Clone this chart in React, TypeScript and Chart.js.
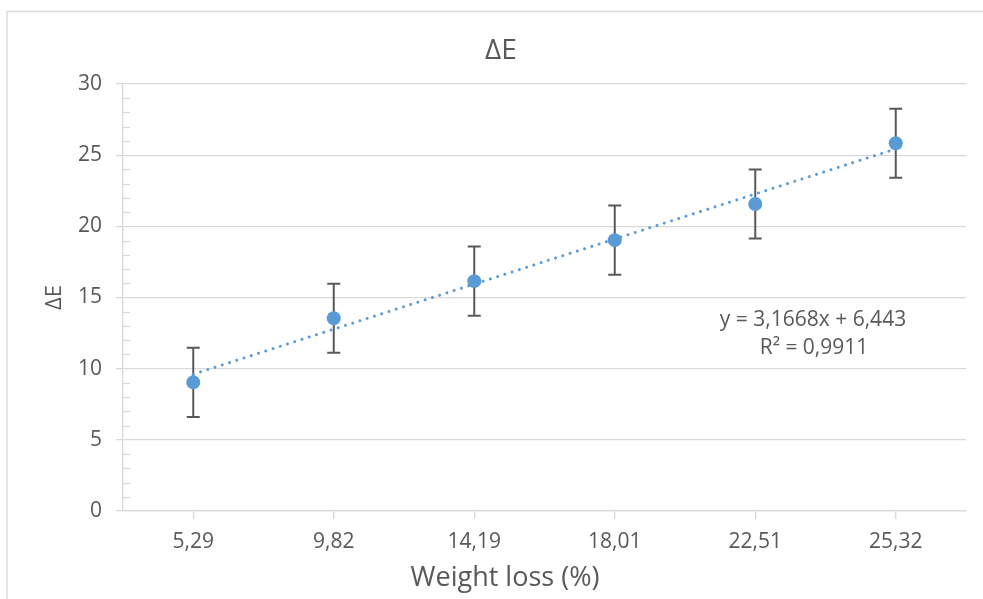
import React, { useEffect, useRef } from "react";
import { Chart, registerables } from "chart.js";

Chart.register(...registerables);

const categories = ["5,29", "9,82", "14,19", "18,01", "22,51", "25,32"];
const deltaE = [9.04, 13.54, 16.15, 19.03, 21.57, 25.84];
const errorAmounts = [2.43, 2.42, 2.43, 2.43, 2.43, 2.42];
const trendValues = [9.61, null, null, null, null, 25.44];
const yTicks = { min: 0, max: 30, step: 5, minorStep: 1 };
const titleText = "ΔE";
const yTitleText = "ΔE";
const xTitleText = "Weight loss (%)";
const equationLines = ["y = 3,1668x + 6,443", "R² = 0,9911"];

const FONT = "'Open Sans', 'Noto Sans', sans-serif";
const TEXT = "#595959";
const GRID = "#D9D9D9";
const BLUE = "#5B9BD5";

const decorPlugin = {
  id: "decor",
  beforeDraw(chart: any) {
    const ctx = chart.ctx;
    ctx.save();
    ctx.fillStyle = "#ffffff";
    ctx.fillRect(0, 0, chart.width, chart.height);
    ctx.strokeStyle = GRID;
    ctx.lineWidth = 1.3;
    ctx.beginPath();
    ctx.moveTo(7, chart.height);
    ctx.lineTo(7, 11.5);
    ctx.lineTo(chart.width, 11.5);
    ctx.stroke();
    ctx.restore();
  },
  beforeDatasetsDraw(chart: any) {
    const ctx = chart.ctx;
    const x = chart.scales.x;
    const y = chart.scales.y;
    ctx.save();
    ctx.strokeStyle = GRID;
    ctx.lineWidth = 1.3;
    for (let v = yTicks.min; v <= yTicks.max; v += yTicks.minorStep) {
      if (v % yTicks.step === 0) continue;
      const py = Math.round(y.getPixelForValue(v)) + 0.5;
      ctx.beginPath();
      ctx.moveTo(chart.chartArea.left, py);
      ctx.lineTo(chart.chartArea.left + 7, py);
      ctx.stroke();
    }
    ctx.strokeStyle = "#595959";
    ctx.lineWidth = 2;
    deltaE.forEach((val, i) => {
      const px = x.getPixelForValue(i);
      const top = y.getPixelForValue(val + errorAmounts[i]);
      const bot = y.getPixelForValue(val - errorAmounts[i]);
      ctx.beginPath();
      ctx.moveTo(px, top);
      ctx.lineTo(px, bot);
      ctx.moveTo(px - 6.5, top);
      ctx.lineTo(px + 6.5, top);
      ctx.moveTo(px - 6.5, bot);
      ctx.lineTo(px + 6.5, bot);
      ctx.stroke();
    });
    ctx.restore();
  },
  afterDraw(chart: any) {
    const ctx = chart.ctx;
    ctx.save();
    ctx.fillStyle = TEXT;
    ctx.textAlign = "center";
    ctx.textBaseline = "middle";
    ctx.font = `28px ${FONT}`;
    ctx.fillText(titleText, 501, 51);
    ctx.font = `27px ${FONT}`;
    ctx.fillText(xTitleText, 505, 578);
    ctx.font = `21px ${FONT}`;
    ctx.fillText(equationLines[0], 813, 320);
    ctx.fillText(equationLines[1], 814, 348);
    ctx.save();
    ctx.translate(55, 297.5);
    ctx.rotate(-Math.PI / 2);
    ctx.font = `22px ${FONT}`;
    ctx.fillText(yTitleText, 0, 0);
    ctx.restore();
    ctx.restore();
  },
};

export default function App() {
  const ref = useRef<HTMLCanvasElement>(null);
  useEffect(() => {
    if (!ref.current) return;
    const chart = new Chart(ref.current, {
      type: "line",
      data: {
        labels: categories,
        datasets: [
          {
            label: "ΔE",
            data: deltaE,
            showLine: false,
            pointRadius: 7,
            pointHoverRadius: 7,
            pointBackgroundColor: BLUE,
            pointBorderWidth: 0,
            borderColor: BLUE,
            backgroundColor: BLUE,
            order: 0,
          },
          {
            label: "Trend",
            data: trendValues,
            spanGaps: true,
            pointRadius: 0,
            borderColor: BLUE,
            borderWidth: 3,
            borderDash: [0.01, 7.6],
            borderCapStyle: "round",
            fill: false,
            order: 1,
          },
        ],
      },
      options: {
        responsive: false,
        animation: false,
        events: [],
        layout: { padding: { top: 84, right: 17, left: 0, bottom: 0 } },
        plugins: {
          legend: { display: false },
          title: { display: false },
          tooltip: { enabled: false },
        },
        scales: {
          x: {
            type: "category",
            offset: true,
            grid: {
              display: true,
              offset: false,
              drawOnChartArea: false,
              drawTicks: true,
              tickLength: 8,
              color: GRID,
              lineWidth: 1.3,
            },
            border: { display: true, color: GRID, width: 1.3 },
            ticks: {
              color: TEXT,
              font: { family: FONT, size: 21 },
              padding: 10,
              maxRotation: 0,
            },
            afterFit(scale: any) {
              scale.height = 599 - 511;
            },
          },
          y: {
            min: yTicks.min,
            max: yTicks.max,
            ticks: {
              stepSize: yTicks.step,
              color: TEXT,
              font: { family: FONT, size: 21 },
              padding: 14,
            },
            grid: {
              color: GRID,
              lineWidth: 1.3,
              tickLength: 7,
            },
            border: { display: true, color: GRID, width: 1.3 },
            afterFit(scale: any) {
              scale.width = 123;
            },
          },
        },
      },
      plugins: [decorPlugin],
    } as any);
    return () => chart.destroy();
  }, []);
  return (
    <div style={{ position: "absolute", left: 0, top: 0, width: 983, height: 599 }}>
      <canvas ref={ref} width={983} height={599} style={{ display: "block", width: 983, height: 599 }} />
    </div>
  );
}
